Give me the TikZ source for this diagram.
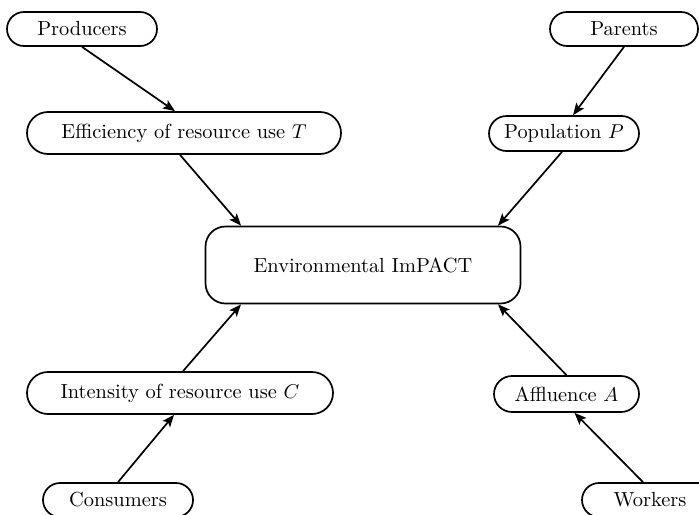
\documentclass[tikz,border=0pt]{standalone}
\usetikzlibrary{shapes.misc,arrows.meta}
\begin{document}
\begin{tikzpicture}[x=0.5pt,y=-0.5pt,
  pill/.style={draw,rounded rectangle,line width=0.85pt,inner sep=0pt,
    font=\fontsize{10.2}{12}\selectfont},
  hub/.style={draw,rectangle,rounded corners=10pt,line width=0.85pt,inner sep=0pt,
    minimum width=157.5pt,minimum height=38.5pt,font=\fontsize{10.2}{12}\selectfont},
  link/.style={line width=0.85pt,-{Stealth[length=6pt,width=4.8pt,inset=1.3pt]}}]
\useasboundingbox (0,0) rectangle (699,514);
\clip (0,0) rectangle (699,514);
% outer causes
\node[pill,minimum width=75pt,minimum height=17pt] (prod) at (82,29) {Producers};
\node[pill,minimum width=74pt,minimum height=17pt] (par) at (624,29) {Parents};
\node[pill,minimum width=75pt,minimum height=17pt] (cons) at (118,500) {Consumers};
\node[pill,minimum width=68pt,minimum height=17pt] (work) at (650,500) {Workers\hspace{5pt}};
% the four factors
\node[pill,minimum width=157pt,minimum height=21pt] (eff) at (184,133) {Efficiency of resource use $T$};
\node[pill,minimum width=75pt,minimum height=17.5pt] (pop) at (564,133.5) {Population $P$};
\node[pill,minimum width=153pt,minimum height=21pt] (int) at (180,393) {Intensity of resource use $C$};
\node[pill,minimum width=72.5pt,minimum height=18pt] (aff) at (566.5,394) {Affluence $A$};
% central node
\node[hub] (imp) at (363,265) {Environmental ImPACT};
% connectors
\draw[link] (prod.south) -- ([xshift=-4.5pt]eff.north);
\draw[link] ([xshift=-2pt]eff.south) -- ([xshift=-61pt]imp.north);
\draw[link] (par.south) -- ([xshift=4.5pt]pop.north);
\draw[link] ([xshift=-1pt]pop.south) -- ([xshift=67.5pt]imp.north);
\draw[link] (cons.north) -- ([xshift=-3pt]int.south);
\draw[link] ([xshift=1.5pt]int.north) -- ([xshift=-61pt]imp.south);
\draw[link] ([xshift=-3.5pt]work.north) -- ([xshift=4pt]aff.south);
\draw[link] (aff.north) -- ([xshift=67.5pt]imp.south);
\end{tikzpicture}
\end{document}
